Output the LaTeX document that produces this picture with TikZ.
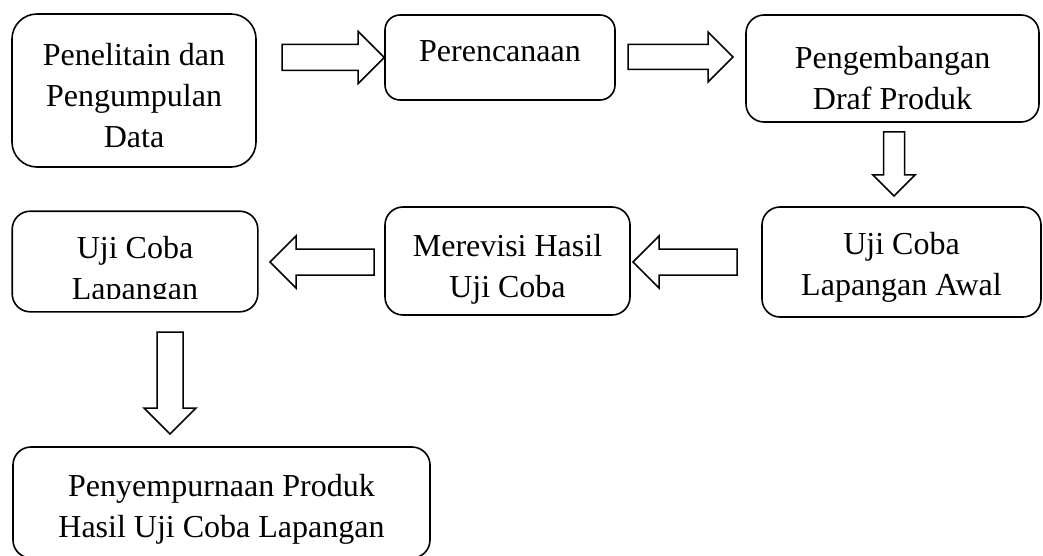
\documentclass[tikz,border=0pt]{standalone}
\usepackage{fontspec}
\setmainfont{Liberation Serif}
\usetikzlibrary{calc}

\tikzset{
  stage/.style={draw, line width=1.6pt, rounded corners=18pt, inner sep=0pt, align=center,
    font=\fontsize{32}{41}\selectfont, text height=70pt, text depth=0pt},
  arrowline/.style={draw, line width=1.5pt},
  pics/fatarrow/.style 2 args={code={
    \pgfmathsetmacro\len{#1}
    \pgfmathsetmacro\neck{#1-2*#2}
    \draw[arrowline] (0,-#2) -- (\neck,-#2) -- (\neck,-2*#2) -- (\len,0)
      -- (\neck,2*#2) -- (\neck,#2) -- (0,#2) -- cycle;
  }}
}

% block arrow from tail to tip, half shaft width #3
\newcommand{\fatarrow}[3]{%
  \path let \p1=(#1), \p2=(#2), \n1={atan2(\y2-\y1,\x2-\x1)},
    \n2={veclen(\x2-\x1,\y2-\y1)} in (\p1) pic[rotate=\n1] {fatarrow={\n2}{#3}};}

\begin{document}
\begin{tikzpicture}[x=1pt, y=-1pt]

  \useasboundingbox (0,0) rectangle (1043,556);

  % top row
  \node[stage, minimum width=244pt, minimum height=153pt, rounded corners=25pt, text height=115pt]
    (pd) at (134,90.5) {Penelitain dan\\Pengumpulan\\Data};
  \node[stage, minimum width=230pt, minimum height=85pt, rounded corners=15pt,
    text height=21pt, text depth=13pt]
    (pr) at (500,57.5) {Perencanaan};
  \node[stage, minimum width=293pt, minimum height=107pt, text height=83pt]
    (dp) at (892.5,68.5) {Pengembangan\\Draf Produk};

  % middle row
  \node[stage, minimum width=279pt, minimum height=110pt, text height=66pt]
    (ua) at (901.5,262) {Uji Coba\\Lapangan Awal};
  \node[stage, minimum width=245pt, minimum height=108pt, text height=72pt]
    (mv) at (507.5,261) {Merevisi Hasil\\Uji Coba};
  \begin{scope}
    \clip (0,0) rectangle (1043,298);
    \node[stage, draw=none, minimum width=244pt, minimum height=99pt, text height=76pt]
      (ul) at (135,261.5) {Uji Coba\\Lapangan};
  \end{scope}
  \draw[line width=1.6pt, rounded corners=18pt] (ul.north west) rectangle (ul.south east);

  % bottom
  \node[stage, minimum width=417pt, minimum height=111pt]
    (ps) at (221.5,502.5) {Penyempurnaan Produk\\Hasil Uji Coba Lapangan};

  % arrows
  \coordinate (t1) at (282,57.5);
  \coordinate (t2) at (628,57);   \coordinate (h2) at (733,57);
  \coordinate (t3) at (894,132);  \coordinate (h3) at (894,196);
  \coordinate (t4) at (737,262);  \coordinate (h4) at (633,262);
  \coordinate (t5) at (374,262);  \coordinate (h5) at (270,262);
  \coordinate (t6) at (170,332);  \coordinate (h6) at (170,434);

  \foreach \a/\b/\w in {t1/pr.west/13, t2/h2/12.5, t3/h3/10.5, t4/h4/13, t5/h5/13, t6/h6/13}
    \fatarrow{\a}{\b}{\w};

\end{tikzpicture}
\end{document}
